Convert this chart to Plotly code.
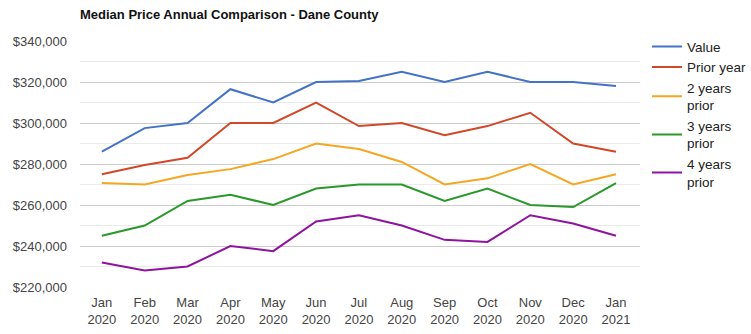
import plotly.graph_objects as go

months = ["Jan<br>2020", "Feb<br>2020", "Mar<br>2020", "Apr<br>2020", "May<br>2020", "Jun<br>2020",
          "Jul<br>2020", "Aug<br>2020", "Sep<br>2020", "Oct<br>2020", "Nov<br>2020", "Dec<br>2020", "Jan<br>2021"]

value = [286000, 297500, 300000, 316500, 310000, 320000, 320500, 325000, 320000, 325000, 320000, 320000, 318000]
prior_year = [275000, 279500, 283000, 300000, 300000, 310000, 298500, 300000, 294000, 298500, 305000, 290000, 286000]
two_years = [270700, 270000, 274600, 277500, 282400, 290000, 287300, 281000, 270000, 273000, 280000, 270000, 275000]
three_years = [245000, 250000, 262000, 265000, 260000, 268000, 270000, 270000, 262000, 268000, 260000, 259000, 270700]
four_years = [232000, 228000, 230000, 240000, 237500, 252000, 255000, 250000, 243000, 242000, 255000, 251000, 245000]

series = [
    ("Value", value, "#4472C4"),
    ("Prior year", prior_year, "#D2472A"),
    ("2 years<br>prior", two_years, "#F5A623"),
    ("3 years<br>prior", three_years, "#2A982A"),
    ("4 years<br>prior", four_years, "#8E139E"),
]

x = list(range(len(months)))
fig = go.Figure()
for name, ys, color in series:
    fig.add_trace(go.Scatter(x=x, y=ys, name=name, mode="lines",
                             line=dict(color=color, width=2)))

fig.update_layout(
    width=751, height=334,
    margin=dict(l=80, r=111, t=41, b=47, autoexpand=False),
    paper_bgcolor="white", plot_bgcolor="white",
    font=dict(family="Liberation Sans, Arial", size=13, color="#444"),
    title=dict(text="<b>Median Price Annual Comparison - Dane County</b>",
               x=80/751, xanchor="left", y=1 - 14/334, yanchor="middle",
               font=dict(size=13, color="#111")),
    showlegend=True,
    legend=dict(x=(647 - 80) / 560, xanchor="left", y=1.04, yanchor="top",
                font=dict(size=13.5, color="#222"), tracegroupgap=0,
                itemwidth=30, bgcolor="rgba(0,0,0,0)", maxheight=1),
    xaxis=dict(tickmode="array", tickvals=x, ticktext=months,
               range=[-0.51, 12.56], showgrid=False, zeroline=False,
               showline=False, ticks="", ticklabelstandoff=6, automargin=False,
               tickfont=dict(size=13, color="#444")),
    yaxis=dict(range=[220000, 340000], dtick=20000, tickformat="$,.0f",
               gridcolor="#cccccc", gridwidth=1, zeroline=False, showline=False,
               ticks="", ticklabelstandoff=12, automargin=False,
               tickfont=dict(size=13, color="#444"),
               minor=dict(dtick=10000, showgrid=True, gridcolor="#ebebeb", gridwidth=1)),
)

fig.write_html("out.html")
